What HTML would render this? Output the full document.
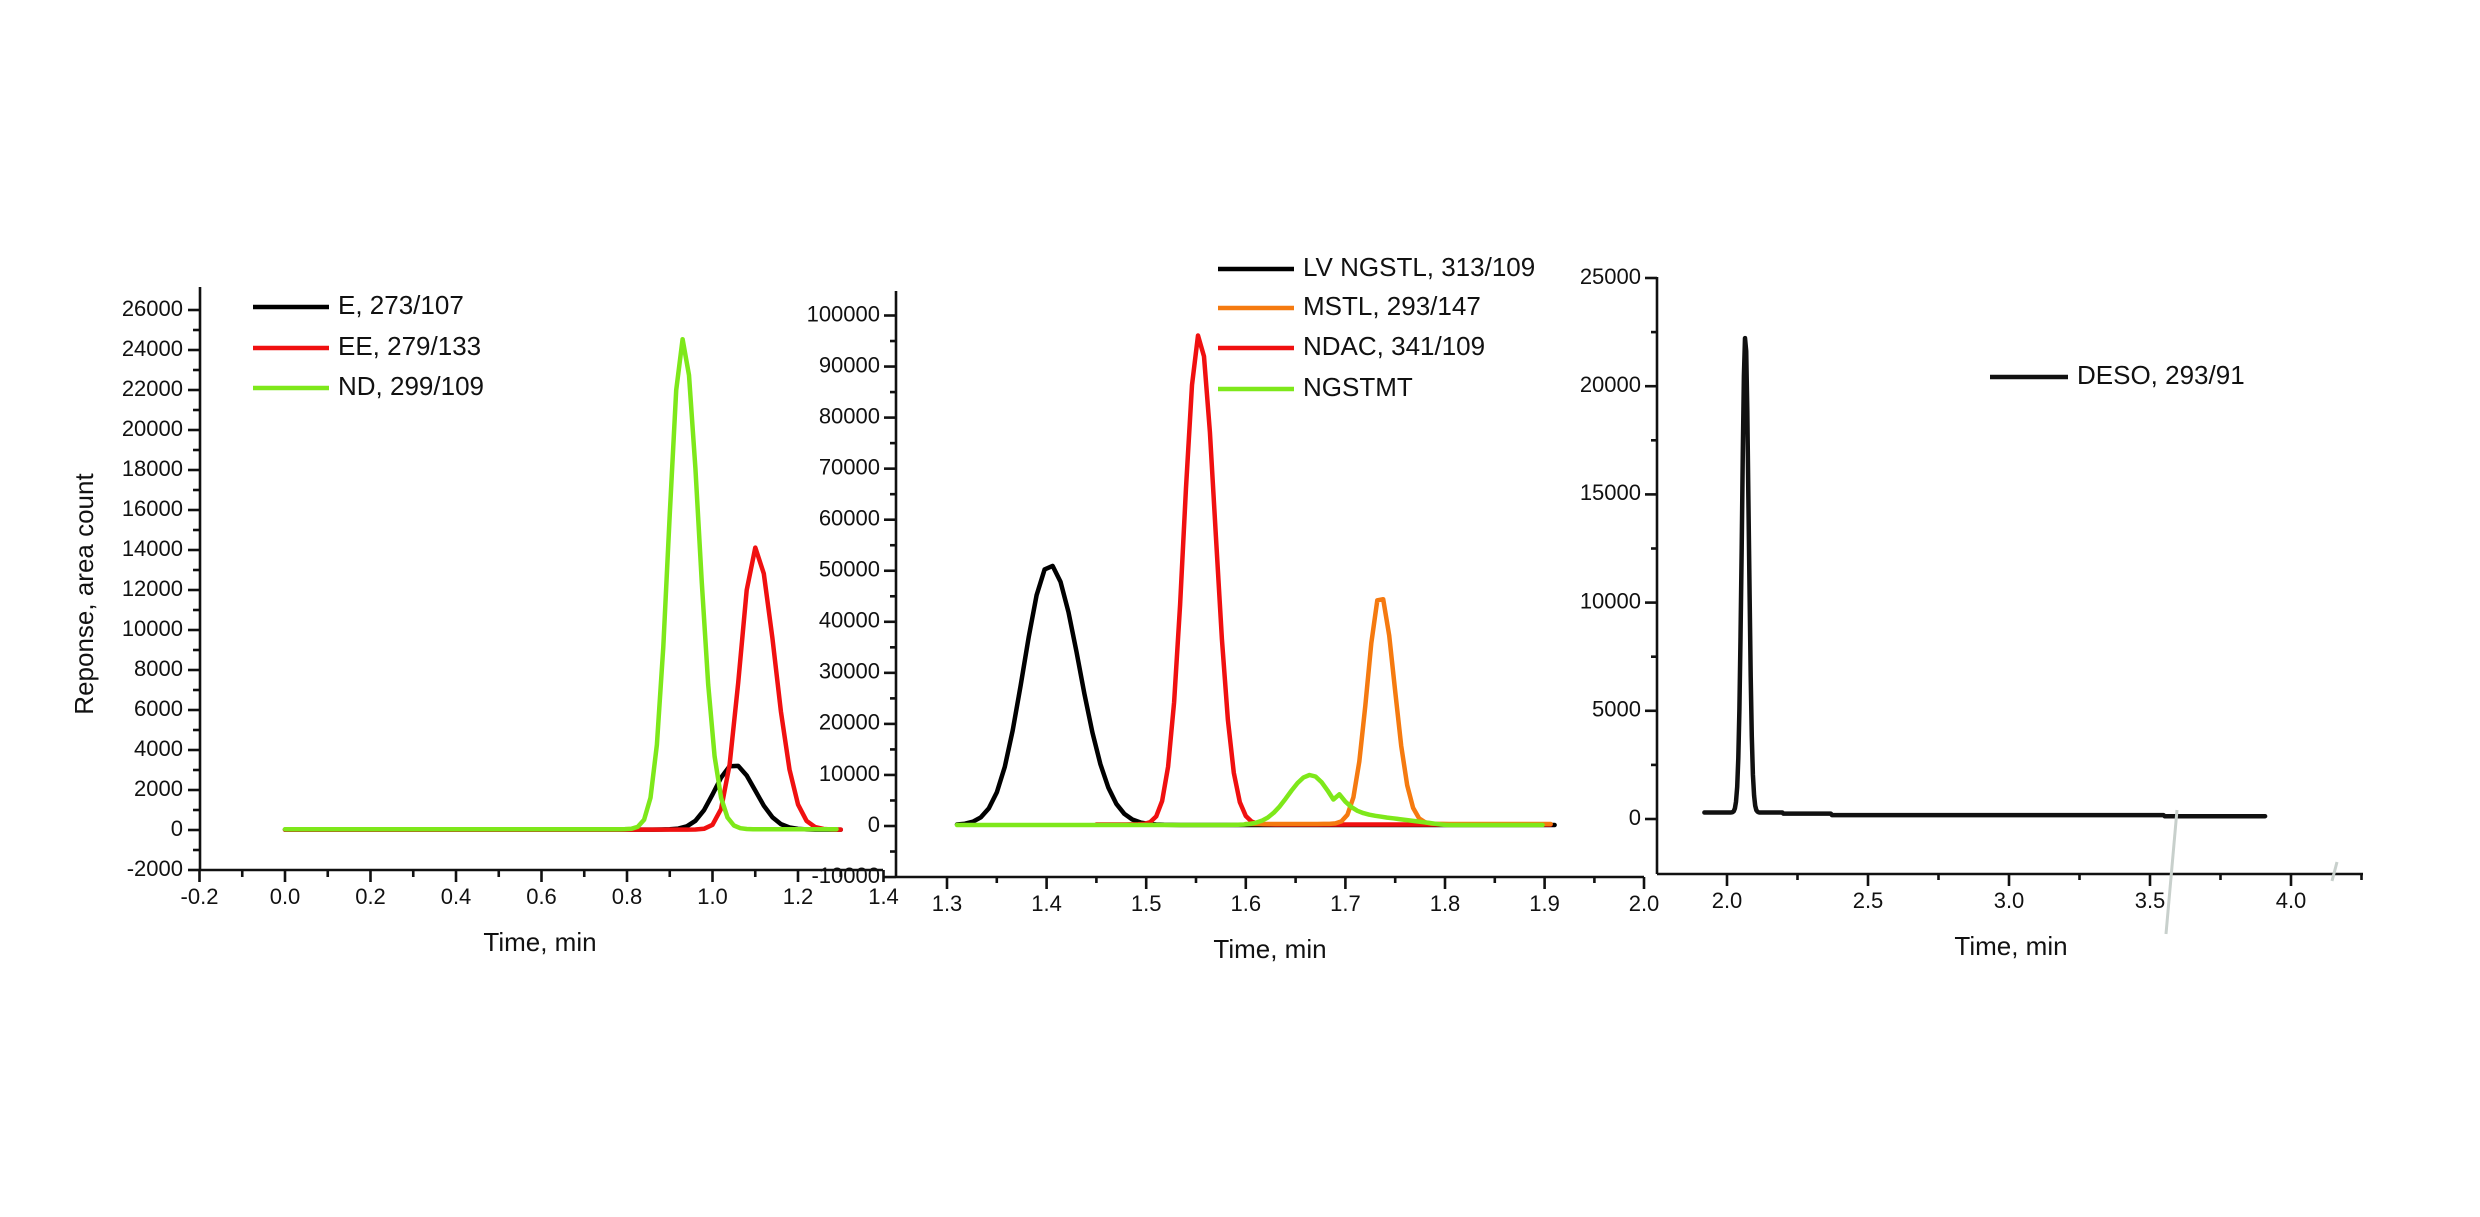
<!DOCTYPE html>
<html><head><meta charset="utf-8"><style>
html,body{margin:0;padding:0;background:#fff;}
svg{display:block;font-family:"Liberation Sans",Arial,sans-serif;}
</style></head><body>
<svg id="s" width="2480" height="1217" viewBox="0 0 2480 1217" xmlns="http://www.w3.org/2000/svg">
<rect width="2480" height="1217" fill="#fff"/>
<g id="g"></g>
</svg>
<script>
const g=document.getElementById('g');let h='';
function L(x1,y1,x2,y2,w=2.6,c='#111'){h+=`<line x1="${x1}" y1="${y1}" x2="${x2}" y2="${y2}" stroke="${c}" stroke-width="${w}"/>`;}
function T(x,y,s,fs=22,a='middle',extra=''){h+=`<text x="${x}" y="${y}" font-size="${fs}" text-anchor="${a}" dominant-baseline="middle" fill="#111" ${extra}>${s}</text>`;}
function P(pts,c,w=4.5){h+=`<polyline fill="none" stroke="${c}" stroke-width="${w}" stroke-linejoin="round" stroke-linecap="round" points="${pts.map(p=>p[0].toFixed(1)+','+p[1].toFixed(1)).join(' ')}"/>`;}
function gauss(t,mu,s,a,tail){let ss=(t>mu&&tail)?s*tail:s;return a*Math.exp(-0.5*((t-mu)/ss)**2);}
function series(t0,t1,dt,f,X,Y){let p=[];for(let t=t0;t<=t1+1e-9;t+=dt)p.push([X(t),Y(f(t))]);return p;}
const FS=22, LF=26;
// Panel 1
const X1=t=>285+t*427.5, Y1=v=>830-v*0.02;
L(200,287,200,870);L(200,870,883,870);
for(let i=0;i<=28;i++){let v=-2000+i*1000;let y=Y1(v);if(y<287)break;let maj=i%2==0;L(200,y,maj?188:193,y);if(maj)T(183,y,v,FS,'end');}
for(let i=0;i<=16;i++){let t=-0.2+i*0.1;let x=X1(t);let maj=i%2==0;L(x,870,x,maj?882:877);if(maj)T(x,898,t.toFixed(1),FS);}
T(540,944,'Time, min',LF);
T(86,594,'Reponse,  area count',LF,'middle','transform="rotate(-90 86 594)"');
P(series(0,1.3,0.02,t=>gauss(t,1.05,0.045,3250,1.1)+20,X1,Y1),'#000');
P(series(0,1.3,0.02,t=>gauss(t,1.10,0.035,14100,1.3)+20,X1,Y1),'#f01010');
P(series(0,1.3,0.015,t=>gauss(t,0.93,0.032,24500,1.2)+40,X1,Y1),'#7ee81a');
[[307,'#000','E, 273/107'],[348,'#f01010','EE, 279/133'],[388,'#7ee81a','ND, 299/109']].forEach(r=>{L(253,r[0],329,r[0],4.5,r[1]);T(338,r[0],r[2],LF,'start');});
// Panel 2
const X2=t=>947+(t-1.3)*99.6*10, Y2=v=>826-v*0.005105;
L(896,291,896,877);L(896,877,1644,877);
for(let i=0;i<=23;i++){let v=-10000+i*5000;let y=Y2(v);if(y<291)break;let maj=i%2==0;L(896,y,maj?884:890,y);if(maj)T(880,y,v,FS,'end');}
L(1644,877,1644,889);T(1644,905,'2.0',FS);
for(let i=0;i<=13;i++){let t=1.3+i*0.05;let x=X2(t);let maj=i%2==0;L(x,877,x,maj?889:883);if(maj)T(x,905,t.toFixed(1),FS);}
T(1270,951,'Time, min',LF);
P(series(1.31,1.91,0.008,t=>gauss(t,1.403,0.026,51000,1.15)+200,X2,Y2),'#000');
P(series(1.45,1.91,0.006,t=>gauss(t,1.553,0.015,96000,1.1)+300,X2,Y2),'#f01010');
P(series(1.60,1.91,0.006,t=>gauss(t,1.735,0.013,45000,1.1)+400,X2,Y2),'#f57a10');
P(series(1.31,1.90,0.006,t=>gauss(t,1.665,0.022,9800,0.9)+(t>1.69?Math.max(0,2500-(t-1.7)*25000):0)+200,X2,Y2),'#7ee81a');
[[269,'#000','LV NGSTL, 313/109'],[308,'#f57a10','MSTL, 293/147'],[348,'#f01010','NDAC, 341/109'],[389,'#7ee81a','NGSTMT']].forEach(r=>{L(1218,r[0],1294,r[0],4.5,r[1]);T(1303,r[0],r[2],LF,'start');});
// Panel 3
const X3=t=>1727+(t-2)*282, Y3=v=>819-v*0.02164;
L(1657,277,1657,874);L(1657,874,2363,874);
for(let i=0;i<=12;i++){let v=-5000+i*2500;let y=Y3(v);if(y<276)break;if(y>872)continue;let maj=i%2==0;L(1657,y,maj?1645:1651,y);if(maj&&v>=0)T(1641,y,v,FS,'end');}
for(let i=0;i<=10;i++){let t=1.75+i*0.25;let x=X3(t);if(x<1660||x>2364)continue;let maj=Math.abs(t*2-Math.round(t*2))<1e-6;L(x,874,x,maj?886:880);if(maj)T(x,902,t.toFixed(1),FS);}
T(2011,948,'Time, min',LF);
P(series(1.92,3.91,0.004,t=>gauss(t,2.065,0.012,22000,1)+ (t<2.2?300:(t<2.37?250:(t<3.55?180:130))),X3,Y3),'#111',4.5);
L(1990,377,2068,377,4.5);T(2077,377,'DESO, 293/91',LF,'start');
// faint artifacts
h+=`<path d="M2177 810 L2166 934" stroke="#c8d0cc" stroke-width="3" fill="none"/><path d="M2337 862 L2332 881" stroke="#c8d0cc" stroke-width="3" fill="none"/>`;
g.innerHTML=h;
</script>
</body></html>
